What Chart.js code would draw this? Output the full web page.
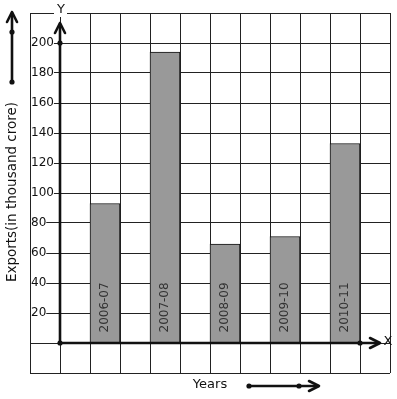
<!DOCTYPE html>
<html>
<head>
<meta charset="utf-8">
<script src="https://cdn.jsdelivr.net/npm/chart.js@4.4.1/dist/chart.umd.min.js"></script>
<style>
  body { margin: 0; background: #fff; }
</style>
</head>
<body>
<canvas id="exportsChart" width="397" height="399"></canvas>
<script>
// --- values ---
const years = ['2006-07', '2007-08', '2008-09', '2009-10', '2010-11'];
const exportValues = [93, 194, 66, 71, 133];
const yTickLabels = [20, 40, 60, 80, 100, 120, 140, 160, 180, 200];

const FONT = 'DejaVu Sans';
const INK = '#111';

// bars sit in every other grid column, starting one column right of the Y axis
const barPoints = years.map((yr, i) => ({ x: 2 * i + 1.5, y: exportValues[i] }));

function dot(ctx, x, y) {
    ctx.beginPath();
    ctx.arc(x, y, 2.6, 0, Math.PI * 2);
    ctx.fill();
}

// open arrow head, tip at (x, y); dx/dy point along the shaft direction
function chevron(ctx, x, y, dx, dy) {
    const len = 10, half = 5;
    ctx.beginPath();
    ctx.moveTo(x - dx * len - dy * half, y - dy * len - dx * half);
    ctx.lineTo(x, y);
    ctx.lineTo(x - dx * len + dy * half, y - dy * len + dx * half);
    ctx.stroke();
}

const graphPaper = {
    id: 'graphPaper',
    afterDatasetsDraw(chart) {
        const { ctx } = chart;
        const meta = chart.getDatasetMeta(0);
        ctx.save();
        ctx.fillStyle = '#333';
        ctx.font = '12px ' + FONT;
        ctx.textAlign = 'left';
        ctx.textBaseline = 'middle';
        meta.data.forEach((bar, i) => {
            ctx.save();
            ctx.translate(bar.x, bar.base - 10);
            ctx.rotate(-Math.PI / 2);
            ctx.fillText(years[i], 0, 0);
            ctx.restore();
        });
        ctx.restore();
    },
    afterDraw(chart) {
        const { ctx, scales: { x, y } } = chart;
        const ox = x.getPixelForValue(0);
        const oy = y.getPixelForValue(0);
        ctx.save();
        ctx.strokeStyle = INK;
        ctx.fillStyle = INK;
        ctx.lineWidth = 2.6;
        ctx.lineCap = 'round';
        ctx.lineJoin = 'round';

        // X axis
        ctx.beginPath();
        ctx.moveTo(ox, oy);
        ctx.lineTo(379, oy);
        ctx.stroke();
        chevron(ctx, 380, oy, 1, 0);
        dot(ctx, x.getPixelForValue(10), oy);

        // Y axis
        ctx.beginPath();
        ctx.moveTo(ox, oy);
        ctx.lineTo(ox, 24);
        ctx.stroke();
        chevron(ctx, ox, 23, 0, -1);
        dot(ctx, ox, y.getPixelForValue(200));
        dot(ctx, ox, oy);

        // side arrow (up)
        ctx.beginPath();
        ctx.moveTo(12, 82);
        ctx.lineTo(12, 13);
        ctx.stroke();
        chevron(ctx, 12, 12, 0, -1);
        dot(ctx, 12, 32);
        dot(ctx, 12, 82);

        // bottom arrow (right)
        ctx.beginPath();
        ctx.moveTo(249, 386);
        ctx.lineTo(318, 386);
        ctx.stroke();
        chevron(ctx, 319, 386, 1, 0);
        dot(ctx, 249, 386);
        dot(ctx, 299, 386);

        // axis letters
        ctx.font = '13px ' + FONT;
        ctx.textAlign = 'center';
        ctx.textBaseline = 'middle';
        ctx.fillStyle = '#fff';
        ctx.fillRect(ox - 6, 4, 13, 13);
        ctx.fillStyle = INK;
        ctx.fillText('Y', ox + 1, 10);
        ctx.fillText('X', 388, oy - 1);

        // titles
        ctx.fillText('Years', 210, 385);
        ctx.save();
        ctx.translate(12, 192);
        ctx.rotate(-Math.PI / 2);
        ctx.font = '13.5px ' + FONT;
        ctx.fillText('Exports(in thousand crore)', 0, 0);
        ctx.restore();

        ctx.restore();
    }
};

new Chart(document.getElementById('exportsChart'), {
    type: 'bar',
    data: {
        datasets: [{
            data: barPoints,
            backgroundColor: '#999999',
            borderColor: INK,
            borderWidth: 1,
            barThickness: 30
        }]
    },
    options: {
        responsive: false,
        animation: false,
        // the mirrored y scale still reserves 2px (tick padding x2)
        layout: { padding: { left: 28, right: 7, top: 13, bottom: 26 } },
        scales: {
            x: {
                type: 'linear',
                offset: false,
                min: -1, max: 11,
                ticks: { stepSize: 1, display: false },
                grid: { color: '#222', lineWidth: 1, drawTicks: false, offset: false },
                border: { display: false }
            },
            y: {
                min: -20, max: 220,
                ticks: {
                    stepSize: 20,
                    mirror: true,
                    padding: 1,
                    color: INK,
                    font: { family: FONT, size: 12 },
                    showLabelBackdrop: true,
                    backdropColor: '#fff',
                    backdropPadding: { top: 1, bottom: 1, left: 0, right: 0 },
                    callback: (v) => yTickLabels.includes(v) ? String(v) : ''
                },
                grid: { color: '#222', lineWidth: 1, drawTicks: false },
                border: { display: false }
            }
        },
        plugins: { legend: { display: false }, tooltip: { enabled: false } }
    },
    plugins: [graphPaper]
});
</script>
</body>
</html>
